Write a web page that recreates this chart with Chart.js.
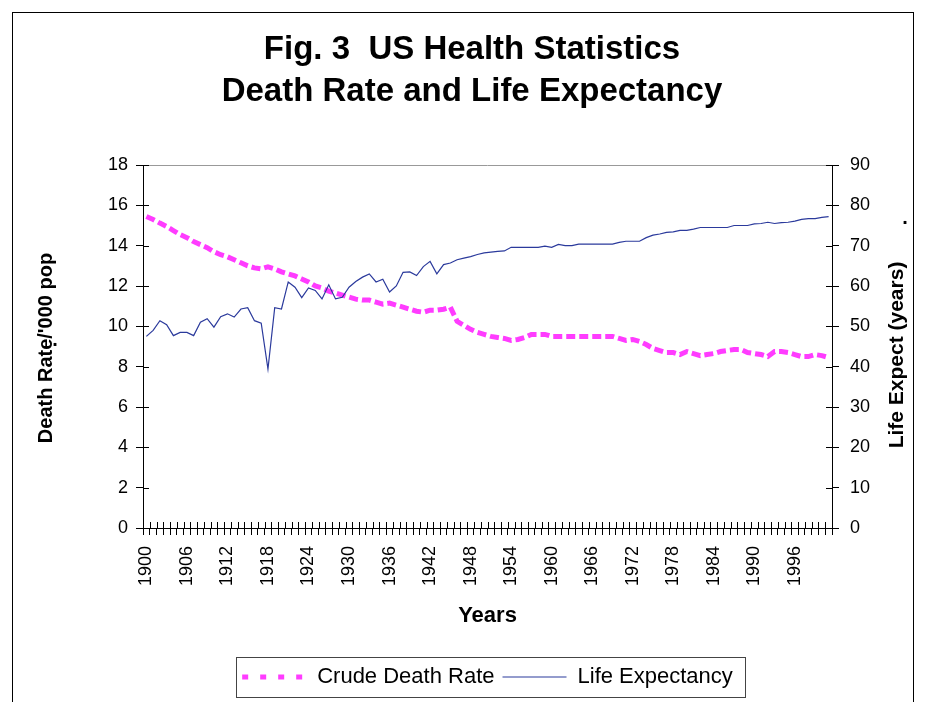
<!DOCTYPE html>
<html lang="en">
<head>
<meta charset="UTF-8">
<title>US Health Statistics</title>
<script src="https://cdn.jsdelivr.net/npm/chart.js"></script>
<style>
  body { margin: 0; background: #fff; }
  .wrap { width: 925px; height: 702px; }
</style>
</head>
<body>
<div class="wrap"><canvas id="chart" width="925" height="702"></canvas></div>
<script>
// categories: one per year
const years = [
  '1900','1901','1902','1903','1904','1905','1906','1907','1908','1909',
  '1910','1911','1912','1913','1914','1915','1916','1917','1918','1919',
  '1920','1921','1922','1923','1924','1925','1926','1927','1928','1929',
  '1930','1931','1932','1933','1934','1935','1936','1937','1938','1939',
  '1940','1941','1942','1943','1944','1945','1946','1947','1948','1949',
  '1950','1951','1952','1953','1954','1955','1956','1957','1958','1959',
  '1960','1961','1962','1963','1964','1965','1966','1967','1968','1969',
  '1970','1971','1972','1973','1974','1975','1976','1977','1978','1979',
  '1980','1981','1982','1983','1984','1985','1986','1987','1988','1989',
  '1990','1991','1992','1993','1994','1995','1996','1997','1998','1999',
  '2000','2001'
];

// crude death rate per 1000 population (left axis)
const deathRate = [
  15.45, 15.3, 15.12, 14.95, 14.75, 14.55, 14.4, 14.2, 14.05, 13.9,
  13.7, 13.55, 13.45, 13.3, 13.15, 13.0, 12.9, 12.85, 12.95, 12.85,
  12.7, 12.6, 12.5, 12.35, 12.2, 12.0, 11.9, 11.75, 11.65, 11.55,
  11.45, 11.35, 11.3, 11.3, 11.2, 11.1, 11.15, 11.05, 10.95, 10.85,
  10.75, 10.7, 10.8, 10.8, 10.85, 10.95, 10.25, 10.05, 9.85, 9.7,
  9.6, 9.5, 9.45, 9.4, 9.3, 9.35, 9.45, 9.6, 9.6, 9.6,
  9.5, 9.5, 9.5, 9.5, 9.5, 9.5, 9.5, 9.5, 9.5, 9.5,
  9.4, 9.3, 9.35, 9.25, 9.1, 8.9, 8.8, 8.7, 8.7, 8.6,
  8.75, 8.65, 8.55, 8.6, 8.65, 8.75, 8.8, 8.85, 8.85, 8.7,
  8.65, 8.6, 8.5, 8.75, 8.75, 8.7, 8.6, 8.5, 8.5, 8.6,
  8.55, 8.45
];

// life expectancy in years (right axis)
const lifeExpectancy = [
  47.5, 49.0, 51.4, 50.4, 47.7, 48.5, 48.5, 47.7, 51.0, 51.9,
  49.8, 52.4, 53.1, 52.3, 54.3, 54.6, 51.4, 50.8, 39.4, 54.6,
  54.3, 61.0, 59.7, 57.1, 59.5, 58.9, 56.8, 60.3, 56.8, 57.2,
  59.7, 61.1, 62.2, 63.0, 61.0, 61.7, 58.5, 60.0, 63.4, 63.5,
  62.6, 64.8, 66.1, 63.0, 65.3, 65.7, 66.5, 66.9, 67.3, 67.8,
  68.2, 68.4, 68.6, 68.7, 69.6, 69.6, 69.6, 69.6, 69.6, 69.9,
  69.6, 70.3, 70.0, 70.0, 70.4, 70.4, 70.4, 70.4, 70.4, 70.4,
  70.8, 71.1, 71.1, 71.1, 72.0, 72.6, 72.9, 73.3, 73.4, 73.8,
  73.8, 74.1, 74.5, 74.5, 74.5, 74.5, 74.5, 75.0, 75.0, 75.0,
  75.4, 75.5, 75.8, 75.5, 75.7, 75.8, 76.1, 76.5, 76.7, 76.7,
  77.0, 77.2
];

const shownYears = ['1900','1906','1912','1918','1924','1930','1936','1942','1948',
                    '1954','1960','1966','1972','1978','1984','1990','1996'];
const deathRateTicks = [0, 2, 4, 6, 8, 10, 12, 14, 16, 18];
const lifeTicks = [0, 10, 20, 30, 40, 50, 60, 70, 80, 90];

const FONT = 'Arial, "Liberation Sans", sans-serif';
const PINK = '#ff3cff';
const BLUE = '#2b3a9c';

// frame, axis titles, inner tick marks and legend box
const decor = {
    id: 'decor',
    beforeDraw(chart) {
        const ctx = chart.ctx;
        ctx.save();
        ctx.fillStyle = '#fff';
        ctx.fillRect(0, 0, chart.width, chart.height);
        ctx.strokeStyle = '#000';
        ctx.lineWidth = 1;
        ctx.strokeRect(12.5, 12.5, 901, 760);
        ctx.restore();
    },
    afterDraw(chart) {
        const {ctx, chartArea: a, scales} = chart;
        ctx.save();

        // top edge of plot area
        ctx.strokeStyle = '#999';
        ctx.lineWidth = 1;
        ctx.beginPath();
        ctx.moveTo(a.left, Math.round(a.top) + 0.5);
        ctx.lineTo(a.right, Math.round(a.top) + 0.5);
        ctx.stroke();

        // inner half of the crossing tick marks
        ctx.strokeStyle = '#000';
        ctx.beginPath();
        deathRateTicks.forEach(v => {
            const y = Math.round(scales.y.getPixelForValue(v)) + 0.5;
            ctx.moveTo(a.left, y); ctx.lineTo(a.left + 6, y);
        });
        lifeTicks.forEach(v => {
            const y = Math.round(scales.y1.getPixelForValue(v)) + 0.5;
            ctx.moveTo(a.right - 6, y); ctx.lineTo(a.right, y);
        });
        const step = a.width / years.length;
        for (let i = 0; i <= years.length; i++) {
            const x = Math.round(a.left + i * step) + 0.5;
            ctx.moveTo(x, a.bottom - 6); ctx.lineTo(x, a.bottom);
        }
        ctx.stroke();

        // title
        ctx.fillStyle = '#000';
        ctx.textAlign = 'center';
        ctx.textBaseline = 'alphabetic';
        ctx.font = 'bold 33px ' + FONT;
        ctx.fillText('Fig. 3  US Health Statistics', 472, 59);
        ctx.fillText('Death Rate and Life Expectancy', 472, 101);

        // vertical axis titles
        ctx.textBaseline = 'middle';
        ctx.font = 'bold 20px ' + FONT;
        ctx.save();
        ctx.translate(46, 348);
        ctx.rotate(-Math.PI / 2);
        ctx.fillText("Death Rate/'000 pop", 0, 0);
        ctx.restore();
        ctx.save();
        ctx.translate(897, 355);
        ctx.rotate(-Math.PI / 2);
        ctx.font = 'bold 21px ' + FONT;
        ctx.fillText('Life Expect (years)', 0, 0);
        ctx.restore();
        ctx.fillText('.', 55, 340);
        ctx.fillText('.', 905, 218);

        // box round the legend
        const boxes = chart.legend.legendHitBoxes;
        if (boxes && boxes.length) {
            const first = boxes[0], last = boxes[boxes.length - 1];
            const l = first.left - 6, r = last.left + last.width + 12;
            const t = first.top - 9, b = first.top + first.height + 9;
            ctx.strokeStyle = '#444';
            ctx.strokeRect(Math.round(l) + 0.5, Math.round(t) + 0.5, Math.round(r - l), Math.round(b - t));
        }
        ctx.restore();
    }
};

new Chart(document.getElementById('chart'), {
    type: 'line',
    data: {
        labels: years,
        datasets: [
            {
                label: 'Crude Death Rate',
                data: deathRate,
                yAxisID: 'y',
                borderColor: PINK,
                backgroundColor: PINK,
                borderWidth: 5,
                borderDash: [9, 4],
                borderCapStyle: 'butt',
                pointRadius: 0,
                tension: 0,
                order: 1
            },
            {
                label: 'Life Expectancy',
                data: lifeExpectancy,
                yAxisID: 'y1',
                borderColor: BLUE,
                backgroundColor: BLUE,
                borderWidth: 1.2,
                pointRadius: 0,
                tension: 0,
                order: 0
            }
        ]
    },
    options: {
        responsive: false,
        animation: false,
        devicePixelRatio: 1,
        layout: { padding: { left: 50, right: 0, top: 165, bottom: 4 } },
        scales: {
            x: {
                offset: true,
                grid: { offset: true, drawOnChartArea: false, color: '#000', tickLength: 7 },
                border: { color: '#000' },
                ticks: {
                    autoSkip: false,
                    maxRotation: 90,
                    minRotation: 90,
                    padding: 11,
                    color: '#000',
                    font: { family: FONT, size: 18 },
                    callback: function (value) {
                        const lab = this.getLabelForValue(value);
                        return shownYears.includes(lab) ? lab : '';
                    }
                },
                title: {
                    display: true,
                    text: 'Years',
                    color: '#000',
                    font: { family: FONT, size: 22, weight: 'bold' },
                    padding: { top: 0, bottom: 29 }
                },
                afterFit: s => { s.height = 130; }
            },
            y: {
                position: 'left',
                min: 0,
                max: 18,
                afterBuildTicks: s => { s.ticks = deathRateTicks.map(v => ({ value: v })); },
                grid: { drawOnChartArea: false, color: '#000', tickLength: 7 },
                border: { color: '#000' },
                ticks: { padding: 8, color: '#000', font: { family: FONT, size: 18 } },
                afterFit: s => { s.width = 93; }
            },
            y1: {
                position: 'right',
                min: 0,
                max: 90,
                afterBuildTicks: s => { s.ticks = lifeTicks.map(v => ({ value: v })); },
                grid: { drawOnChartArea: false, color: '#000', tickLength: 7 },
                border: { color: '#000' },
                ticks: { padding: 11, color: '#000', font: { family: FONT, size: 18 } },
                afterFit: s => { s.width = 93; }
            }
        },
        plugins: {
            title: { display: false },
            tooltip: { enabled: false },
            legend: {
                position: 'bottom',
                labels: {
                    usePointStyle: true,
                    pointStyle: 'line',
                    pointStyleWidth: 64,
                    padding: 8,
                    color: '#000',
                    font: { family: FONT, size: 22 },
                    sort: (a, b) => a.datasetIndex - b.datasetIndex,
                    generateLabels: chart => {
                        const items = Chart.defaults.plugins.legend.labels.generateLabels(chart);
                        items.forEach(it => {
                            it.pointStyle = 'line';
                            if (it.datasetIndex === 0) { it.lineDash = [6, 12]; it.lineWidth = 5; }
                        });
                        return items;
                    }
                }
            }
        }
    },
    plugins: [decor]
});
</script>
</body>
</html>
